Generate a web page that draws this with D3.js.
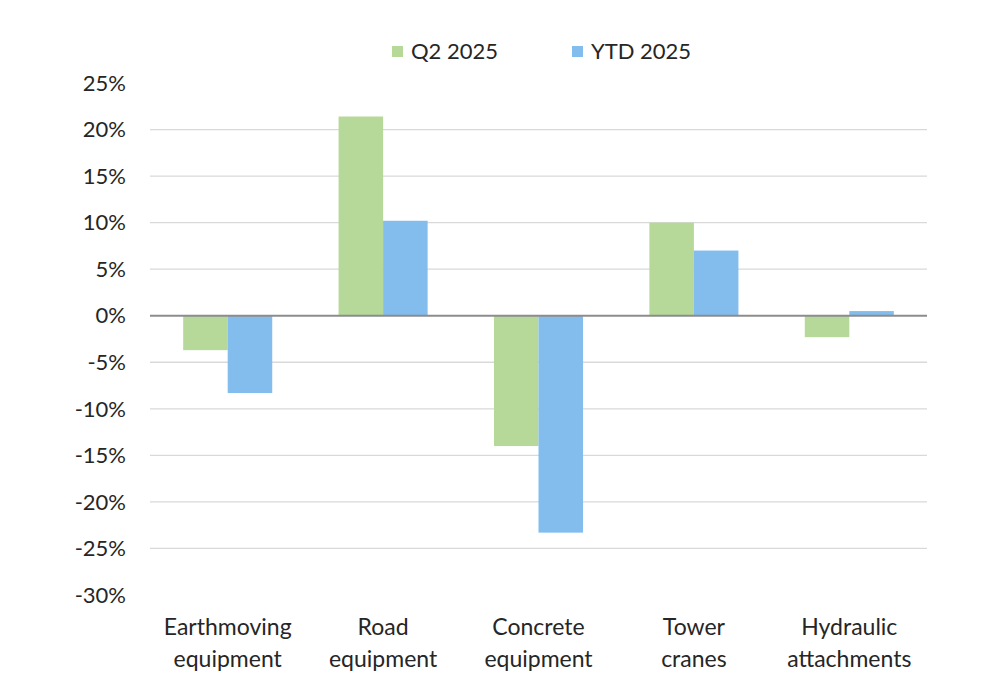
<!DOCTYPE html>
<html>
<head>
<meta charset="utf-8">
<script src="https://cdn.jsdelivr.net/npm/d3@7"></script>
<style>
  body { margin: 0; background: #fff; }
  svg { display: block; font-family: Lato, "Open Sans", sans-serif; }
</style>
</head>
<body>
<svg id="chart"></svg>
<script>
// chart values
const categories = [["Earthmoving", "equipment"], ["Road", "equipment"], ["Concrete", "equipment"], ["Tower", "cranes"], ["Hydraulic", "attachments"]];
const seriesNames = ["Q2 2025", "YTD 2025"];
const q2 = [-3.7, 21.4, -14.0, 10.0, -2.3];
const ytd = [-8.3, 10.2, -23.3, 7.0, 0.5];
const yTicks = [-30, -25, -20, -15, -10, -5, 0, 5, 10, 15, 20, 25];
const gridTicks = [-25, -20, -15, -10, -5, 5, 10, 15, 20];
const colors = ["#b6d99a", "#82bdee"];

var svgWidth = 1004, svgHeight = 686;
var margin = { top: 83, right: 77, bottom: 91, left: 150 };
var width = svgWidth - margin.left - margin.right;
var height = svgHeight - margin.top - margin.bottom;
var fontSize = 22;

var svg = d3.select("#chart")
    .attr("width", svgWidth)
    .attr("height", svgHeight);

var g = svg.append("g")
    .attr("transform", "translate(" + margin.left + "," + margin.top + ")");

var xScale = d3.scaleBand()
    .domain(d3.range(categories.length))
    .range([0, width])
    .paddingInner(0.427)
    .paddingOuter(0.2135);

var xInner = d3.scaleBand()
    .domain([0, 1])
    .range([0, xScale.bandwidth()]);

var yScale = d3.scaleLinear()
    .domain([-30, 25])
    .range([height, 0]);

// gridlines
g.append("g")
    .selectAll("line")
    .data(gridTicks)
    .join("line")
    .attr("x1", 0)
    .attr("x2", width)
    .attr("y1", d => yScale(d))
    .attr("y2", d => yScale(d))
    .attr("stroke", "#d9d9d9")
    .attr("stroke-width", 1.3);

// y tick labels
g.append("g")
    .selectAll("text")
    .data(yTicks)
    .join("text")
    .attr("x", -24)
    .attr("y", d => yScale(d))
    .attr("dy", "0.35em")
    .attr("text-anchor", "end")
    .attr("font-size", fontSize)
    .attr("fill", "#262626")
    .text(d => d + "%");

// bars
const series = [q2, ytd];
series.forEach((vals, s) => {
    g.append("g")
        .selectAll("rect")
        .data(vals)
        .join("rect")
        .attr("x", (d, i) => xScale(i) + xInner(s))
        .attr("width", xInner.bandwidth())
        .attr("y", d => yScale(Math.max(0, d)))
        .attr("height", d => Math.abs(yScale(d) - yScale(0)))
        .attr("fill", colors[s]);
});

// zero line
g.append("line")
    .attr("x1", 0)
    .attr("x2", width)
    .attr("y1", yScale(0))
    .attr("y2", yScale(0))
    .attr("stroke", "#8c8c8c")
    .attr("stroke-width", 2.2);

// category labels
var cat = g.append("g")
    .selectAll("text")
    .data(categories)
    .join("text")
    .attr("x", (d, i) => xScale(i) + xScale.bandwidth() / 2)
    .attr("y", height + 40)
    .attr("text-anchor", "middle")
    .attr("font-size", 23)
    .attr("fill", "#262626");
cat.selectAll("tspan")
    .data(d => d)
    .join("tspan")
    .attr("x", function () { return d3.select(this.parentNode).attr("x"); })
    .attr("dy", (d, i) => i === 0 ? 0 : 32)
    .text(d => d);

// legend
var legendX = [392, 572];
var legend = svg.append("g")
    .selectAll("g")
    .data(seriesNames)
    .join("g")
    .attr("transform", (d, i) => "translate(" + legendX[i] + ",46)");
legend.append("rect")
    .attr("width", 11)
    .attr("height", 11)
    .attr("fill", (d, i) => colors[i]);
legend.append("text")
    .attr("x", 19)
    .attr("y", 5.5)
    .attr("dy", "0.35em")
    .attr("font-size", fontSize)
    .attr("fill", "#262626")
    .text(d => d);
</script>
</body>
</html>
